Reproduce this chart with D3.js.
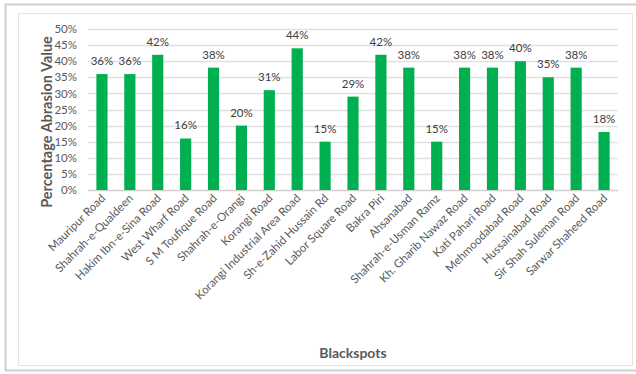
<!DOCTYPE html>
<html>
<head>
<meta charset="utf-8">
<script src="https://cdn.jsdelivr.net/npm/d3@7/dist/d3.min.js"></script>
<style>
  html, body { margin: 0; padding: 0; background: #fff; }
  svg { display: block; }
  text { font-family: Lato, "Open Sans", sans-serif; }
</style>
</head>
<body>
<svg id="chart" width="636" height="374"></svg>
<script>
// Blackspot locations and their abrasion values (%)
const categories = [
  "Mauripur Road", "Shahrah-e-Qualdeen", "Hakim Ibn-e-Sina Road", "West Wharf Road",
  "S M Toufique Road", "Shahrah-e-Orangi", "Korangi Road", "Korangi Industrial Area Road",
  "Sh-e-Zahid Hussain Rd", "Labor Square Road", "Bakra Piri", "Ahsanabad",
  "Shahrah-e-Usman Ramz", "Kh. Gharib Nawaz Road", "Kati Pahari Road", "Mehmoodabad Road",
  "Hussainabad Road", "Sir Shah Suleman Road", "Sarwar Shaheed Road"
];
const values = [36, 36, 42, 16, 38, 20, 31, 44, 15, 29, 42, 38, 15, 38, 38, 40, 35, 38, 18];
const yTicks = [0, 5, 10, 15, 20, 25, 30, 35, 40, 45, 50];

const svg = d3.select("#chart");
const W = 636, H = 374;
const margin = { left: 88, right: 18, top: 29, bottom: 184 };
const plotW = W - margin.left - margin.right;
const plotH = H - margin.top - margin.bottom;

// Frame: outer and inner borders
svg.append("rect").attr("x", 5.5).attr("y", 4.5).attr("width", 640).attr("height", 366)
  .attr("fill", "none").attr("stroke", "#cfcfcf").attr("stroke-width", 2);
svg.append("rect").attr("x", 18.5).attr("y", 13.5).attr("width", 614).attr("height", 352)
  .attr("fill", "none").attr("stroke", "#e4e4e4").attr("stroke-width", 1);

const x = d3.scaleBand().domain(categories).range([0, plotW]).paddingInner(0.6).paddingOuter(0.3);
const y = d3.scaleLinear().domain([0, 50]).range([plotH, 0]);

const g = svg.append("g").attr("transform", `translate(${margin.left},${margin.top})`);

// Horizontal gridlines
g.append("g").selectAll("line").data(yTicks).join("line")
  .attr("x1", 0).attr("x2", plotW)
  .attr("y1", d => Math.round(y(d)) + 0.5).attr("y2", d => Math.round(y(d)) + 0.5)
  .attr("stroke", d => d === 0 ? "#d0d0d0" : "#e0e0e0").attr("stroke-width", 1.3);

// Y axis labels
const yAxis = d3.axisLeft(y).tickValues(yTicks).tickFormat(d => d + "%").tickSize(0).tickPadding(11);
const ya = g.append("g").call(yAxis);
ya.select(".domain").remove();
ya.selectAll("text").attr("fill", "#595959").style("font-size", "11.5px")
  .style("font-family", "Lato, 'Open Sans', sans-serif");

// Bars
g.append("g").selectAll("rect").data(values).join("rect")
  .attr("x", (d, i) => x(categories[i]))
  .attr("y", d => y(d))
  .attr("width", x.bandwidth())
  .attr("height", d => plotH - y(d))
  .attr("fill", "#00b050");

// Value labels
g.append("g").selectAll("text").data(values).join("text")
  .attr("x", (d, i) => x(categories[i]) + x.bandwidth() / 2)
  .attr("y", d => y(d) - 9)
  .attr("text-anchor", "middle")
  .attr("fill", "#404040")
  .style("font-size", "11.5px")
  .text(d => d + "%");

// Category labels, rotated
const xAxis = d3.axisBottom(x).tickSize(0).tickPadding(0);
const xa = g.append("g").attr("transform", `translate(0,${plotH})`).call(xAxis);
xa.select(".domain").remove();
xa.selectAll("text")
  .attr("fill", "#595959")
  .style("font-size", "11.5px")
  .style("font-family", "Lato, 'Open Sans', sans-serif")
  .attr("text-anchor", "end")
  .attr("dy", "0")
  .attr("transform", "translate(4,9) rotate(-45)");

// Axis titles
svg.append("text")
  .attr("transform", "translate(52,122) rotate(-90)")
  .attr("text-anchor", "middle")
  .attr("fill", "#595959")
  .style("font-size", "14.5px").style("font-weight", "bold")
  .text("Percentage Abrasion Value");

svg.append("text")
  .attr("x", margin.left + plotW / 2).attr("y", 358)
  .attr("text-anchor", "middle")
  .attr("fill", "#595959")
  .style("font-size", "14px").style("font-weight", "bold")
  .text("Blackspots");
</script>
</body>
</html>
